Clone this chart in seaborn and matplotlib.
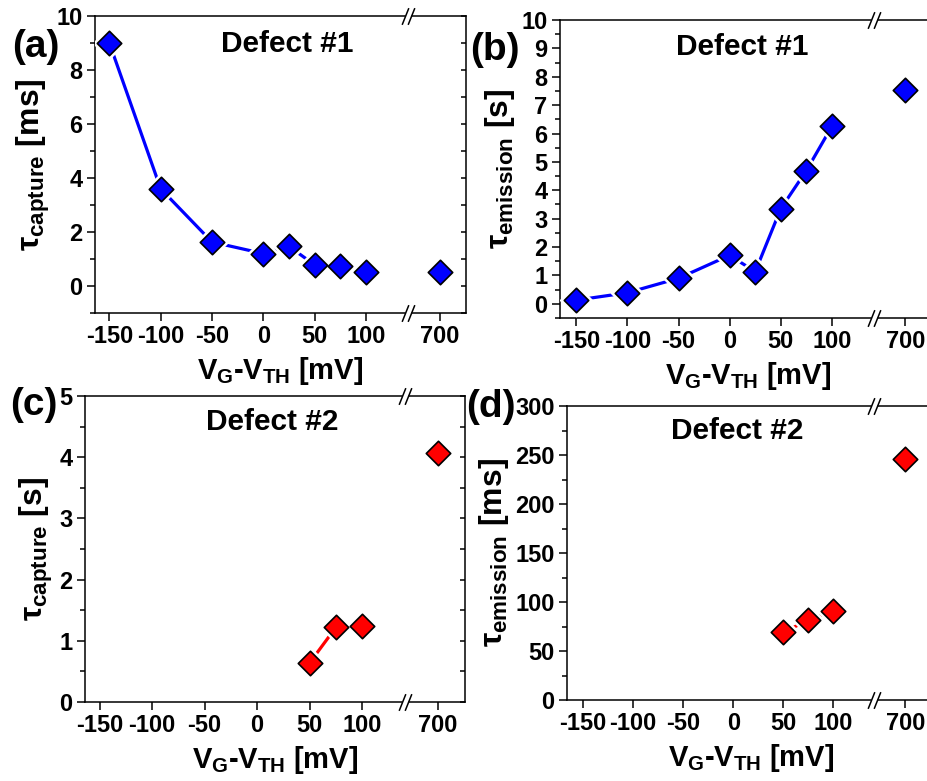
"""
Capture / emission time constants vs. gate overdrive for two defects,
four panels with a broken x axis (the 700 mV point sits past the break).
"""

import numpy as np
import matplotlib
matplotlib.use("Agg")
import matplotlib.pyplot as plt
import matplotlib.transforms as mtransforms
from matplotlib.ticker import FixedLocator, FixedFormatter, MultipleLocator
import seaborn as sns

sns.set_theme(style="ticks")
plt.rcParams["font.family"] = ["Liberation Sans", "DejaVu Sans"]
plt.rcParams["font.weight"] = "bold"
plt.rcParams["mathtext.fontset"] = "custom"
plt.rcParams["mathtext.rm"] = "Liberation Sans:bold"
plt.rcParams["mathtext.it"] = "Liberation Sans:bold"
plt.rcParams["mathtext.bf"] = "Liberation Sans:bold"
plt.rcParams["axes.unicode_minus"] = False
plt.rcParams["text.color"] = "black"
plt.rcParams["axes.labelcolor"] = "black"
plt.rcParams["xtick.color"] = "black"
plt.rcParams["ytick.color"] = "black"

# ──────────────────────────────────────────────
# data
vg_1 = [-150, -100, -50, 0, 25, 50, 75, 100, 700]
tau_capture_1 = [9.0, 3.6, 1.63, 1.2, 1.47, 0.78, 0.74, 0.53, 0.53]      # ms
tau_emission_1 = [0.13, 0.39, 0.90, 1.71, 1.13, 3.35, 4.69, 6.25, 7.54]  # s

vg_2 = [50, 75, 100, 700]
tau_capture_2 = [0.64, 1.22, 1.25, 4.07]     # s
tau_emission_2 = [69, 81.6, 90.8, 245.6]     # ms

x_ticks = [-150, -100, -50, 0, 50, 100, 700]
x_tick_labels = ["-150", "-100", "-50", "0", "50", "100", "700"]

BLUE = "#0000ff"
RED = "#ff0000"

# broken x axis: linear up to 150 mV, compressed above
X_JOIN = 150.0
X_SQUEEZE = 22.0 / 550.0
X_BREAK = 141.0


def fwd(x):
    x = np.asarray(x, dtype=float)
    return np.where(x <= X_JOIN, x, X_JOIN + (x - X_JOIN) * X_SQUEEZE)


def inv(u):
    u = np.asarray(u, dtype=float)
    return np.where(u <= X_JOIN, u, X_JOIN + (u - X_JOIN) / X_SQUEEZE)


W, H = 927, 781
fig = plt.figure(figsize=(W / 100, H / 100), dpi=100)


def px_axes(left, top, right, bottom):
    return fig.add_axes([left / W, 1 - bottom / H, (right - left) / W, (bottom - top) / H])


def draw_break(ax):
    blend = mtransforms.blended_transform_factory(ax.transData, ax.transAxes)
    xs = [X_BREAK - 3, X_BREAK + 3]
    for yy in (0, 1):
        ax.plot(xs, [yy, yy], color="white", lw=2.5, transform=blend,
                clip_on=False, zorder=6, solid_capstyle="butt")
        ax.plot(xs, [yy, yy], ls="none", marker=[(-0.4, -1), (0.4, 1)], ms=12,
                mec="black", mew=1.1, transform=blend, clip_on=False, zorder=7)


def panel(ax, x, y, color, xlim, ylim, ymajor, yminor, ylabel):
    x = np.asarray(x)
    y = np.asarray(y)
    ax.set_xscale("function", functions=(fwd, inv))

    main = x <= 100
    sns.lineplot(x=x[main], y=y[main], ax=ax, color=color, linewidth=2.3,
                 estimator=None, sort=False, zorder=2)
    # white halo -> gap between line and symbols
    sns.scatterplot(x=x, y=y, ax=ax, marker="D", s=300, color="white",
                    linewidth=0, zorder=3)
    sns.scatterplot(x=x, y=y, ax=ax, marker="D", s=155, color=color,
                    edgecolor="black", linewidth=1.2, zorder=4)

    ax.set_xlim(inv(xlim[0]), inv(xlim[1]))
    ax.set_ylim(*ylim)
    ax.xaxis.set_major_locator(FixedLocator(x_ticks))
    ax.xaxis.set_major_formatter(FixedFormatter(x_tick_labels))
    ax.xaxis.set_minor_locator(FixedLocator([]))
    ax.yaxis.set_major_locator(MultipleLocator(ymajor))
    ax.yaxis.set_minor_locator(MultipleLocator(yminor))

    for s in ax.spines.values():
        s.set_linewidth(1.1)
        s.set_color("black")
    ax.tick_params(axis="both", which="major", labelsize=17, width=1.1,
                   length=6, direction="out", pad=3, colors="black")
    ax.tick_params(axis="y", which="minor", width=1.1, length=3.5, direction="out")
    ax.tick_params(axis="y", which="both", right=True, labelright=False)
    for t in ax.yaxis.get_ticklines(minor=False)[1::2] + ax.yaxis.get_ticklines(minor=True)[1::2]:
        t.set_marker(0)  # right-side ticks point inward
        t.set_markersize(3.5)
    ax.tick_params(axis="x", top=False)

    ax.set_xlabel(r"$V_{G}$-$V_{TH}$ [mV]", fontsize=21, fontweight="bold",
                  labelpad=5, color="black")
    ax.set_ylabel(ylabel, fontsize=23, fontweight="bold", labelpad=3, color="black")
    ax.grid(False)
    draw_break(ax)


ax_a = px_axes(95, 16, 466, 313)
panel(ax_a, vg_1, tau_capture_1, BLUE, (-164, 197.5), (-1, 10), 2, 1,
      r"$\tau_{capture}$ [ms]")

ax_b = px_axes(560, 20, 936, 318)
panel(ax_b, vg_1, tau_emission_1, BLUE, (-166, 201.9), (-0.5, 10), 1, 0.5,
      r"$\tau_{emission}$ [s]")

ax_c = px_axes(85, 396, 465, 702)
panel(ax_c, vg_2, tau_capture_2, RED, (-164, 198), (0, 5), 1, 0.5,
      r"$\tau_{capture}$ [s]")

ax_d = px_axes(567, 406, 936, 700)
panel(ax_d, vg_2, tau_emission_2, RED, (-166, 202.5), (0, 300), 50, 25,
      r"$\tau_{emission}$ [ms]")


def fig_text(xpx, ypx, s, size):
    fig.text(xpx / W, 1 - ypx / H, s, fontsize=size, fontweight="bold",
             ha="center", va="center", color="black")


fig_text(36, 47, "(a)", 28)
fig_text(495, 50, "(b)", 28)
fig_text(34, 405, "(c)", 28)
fig_text(491, 407, "(d)", 28)

fig_text(287, 44, "Defect #1", 21.5)
fig_text(742, 47, "Defect #1", 21.5)
fig_text(272, 422, "Defect #2", 21.5)
fig_text(737, 431, "Defect #2", 21.5)

fig.savefig("out.png", dpi=100)
plt.close(fig)
